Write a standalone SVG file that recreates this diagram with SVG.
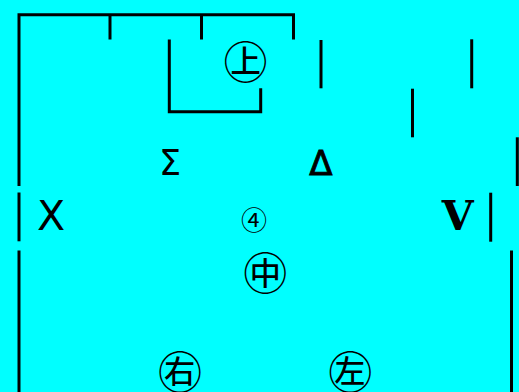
<svg xmlns="http://www.w3.org/2000/svg" width="519" height="392" viewBox="0 0 519 392">
<style>
.ln{stroke:#000;stroke-width:3;fill:none;stroke-linecap:butt}
.cj{font-family:"Noto Sans CJK SC","Noto Sans CJK JP",sans-serif;fill:#000;text-anchor:middle}
.sa{font-family:"DejaVu Sans",sans-serif;fill:#000;text-anchor:middle}
.se{font-family:"DejaVu Serif",serif;font-weight:bold;fill:#000;text-anchor:middle}
</style>
<rect width="519" height="392" fill="#00ffff"/>
<g id="connectors">
<path class="ln" d="M19,186 V14.7 H293.5 V39.5"/>
<line class="ln" x1="19" y1="192.5" x2="19" y2="241.3"/>
<line class="ln" x1="19" y1="250.5" x2="19" y2="392"/>
<line class="ln" x1="110" y1="14.7" x2="110" y2="39.5"/>
<line class="ln" x1="201.5" y1="14.7" x2="201.5" y2="39.5"/>
<path class="ln" d="M169.3,39.5 V111.7 H260.7 V88.3"/>
<line class="ln" x1="321" y1="40" x2="321" y2="88.3"/>
<line class="ln" x1="471.7" y1="39.3" x2="471.7" y2="88.3"/>
<line class="ln" x1="412.5" y1="88.7" x2="412.5" y2="137.3"/>
<line class="ln" x1="517.3" y1="137.3" x2="517.3" y2="186"/>
<line class="ln" x1="490.7" y1="192.7" x2="490.7" y2="241.7"/>
<line class="ln" x1="511.5" y1="250.5" x2="511.5" y2="392"/>
</g>
<g id="node-shang"><text class="cj" x="245.5" y="79" font-size="44">㊤</text></g>
<g id="node-sigma"><text class="sa" x="170" y="175" font-size="35">Σ</text></g>
<g id="node-delta"><text class="sa" x="321" y="175" font-size="34" stroke="#000" stroke-width="0.9">Δ</text></g>
<g id="node-x"><text class="sa" x="51" y="230" font-size="41">X</text></g>
<g id="node-4"><text class="cj" x="254" y="229.5" font-size="26">④</text></g>
<g id="node-v"><text class="se" x="457.7" y="230" font-size="41">V</text></g>
<g id="node-zhong"><text class="cj" x="265.3" y="290" font-size="44">㊥</text></g>
<g id="node-you"><text class="cj" x="180" y="389" font-size="44">㊨</text></g>
<g id="node-zuo"><text class="cj" x="350.3" y="389" font-size="44">㊧</text></g>
</svg>
